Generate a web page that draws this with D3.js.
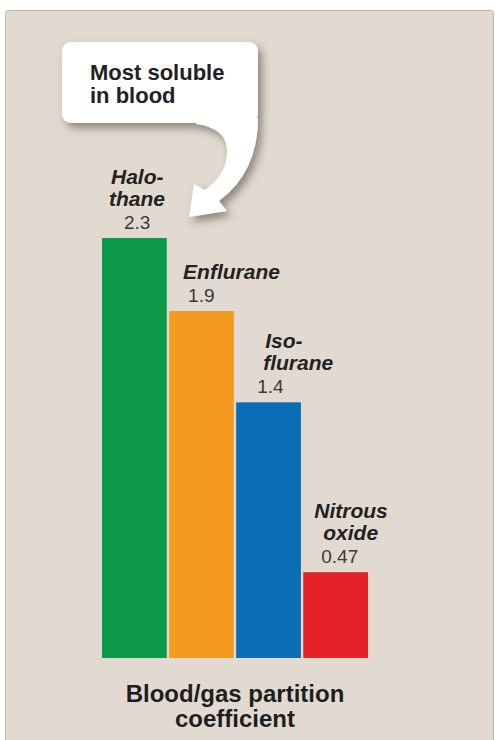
<!DOCTYPE html>
<html>
<head>
<meta charset="utf-8">
<script src="https://cdn.jsdelivr.net/npm/d3@7"></script>
<style>
  body { margin: 0; background: #fff; }
  svg { display: block; font-family: 'Liberation Sans', Arial, sans-serif; }
</style>
</head>
<body>
<div id="chart"></div>
<script>
// data
const names = ['Halothane', 'Enflurane', 'Isoflurane', 'Nitrous oxide']
const nameLines = [['Halo-', 'thane'], ['Enflurane'], ['Iso-', 'flurane'], ['Nitrous', 'oxide']]
const values = [2.3, 1.9, 1.4, 0.47]
const valueLabels = ['2.3', '1.9', '1.4', '0.47']
const colors = ['#0e9a4b', '#f39b20', '#0b6db5', '#e52228']
const axisTitle = ['Blood/gas partition', 'coefficient']
const calloutText = ['Most soluble', 'in blood']

// label x offsets from the left edge of each bar (name lines, then value)
const labelOffsets = [[9, 7], [14], [29, 27], [11, 20]]
const valueOffsets = [22, 19, 21, 18]

const width = 495
const height = 740

const svg = d3
  .select('#chart')
  .append('svg')
  .attr('width', width)
  .attr('height', height)

const defs = svg.append('defs')
const shadow = defs.append('filter').attr('id', 'shadow')
  .attr('x', '-20%').attr('y', '-20%').attr('width', '150%').attr('height', '150%')
shadow.append('feDropShadow')
  .attr('dx', 4).attr('dy', 5)
  .attr('stdDeviation', 4.5)
  .attr('flood-color', '#4a4036')
  .attr('flood-opacity', 0.55)

// panel
svg.append('rect')
  .attr('x', 5.5).attr('y', 10.5)
  .attr('width', 488).attr('height', 735)
  .attr('rx', 3)
  .attr('fill', '#e2dad0')
  .attr('stroke', '#bdb4aa')

const xScale = d3.scaleBand()
  .domain(names)
  .range([102, 368])
  .paddingInner(0.035)

const yScale = d3.scaleLinear()
  .domain([0, 2.3])
  .range([658, 238])

svg.selectAll('.bar')
  .data(values)
  .enter()
  .append('rect')
  .attr('class', 'bar')
  .attr('x', (d, i) => xScale(names[i]))
  .attr('y', d => yScale(d))
  .attr('width', xScale.bandwidth())
  .attr('height', d => yScale(0) - yScale(d))
  .attr('fill', (d, i) => colors[i])

// bar labels: name (one text, lines as tspans) and value
svg.selectAll('.label')
  .data(values)
  .enter()
  .append('g')
  .attr('class', 'label')
  .each(function(d, i) {
    const g = d3.select(this)
    const x0 = xScale(names[i])
    const top = yScale(d)
    const lines = nameLines[i]
    g.append('text')
      .attr('x', x0 + valueOffsets[i])
      .attr('y', top - 9)
      .attr('fill', '#3a3a3a')
      .style('font-size', '19px')
      .text(valueLabels[i])
    const name = g.append('text')
      .attr('y', top - 9 - 23 - 22 * (lines.length - 1))
      .attr('fill', '#222')
      .style('font-size', '21px')
      .style('font-weight', 'bold')
      .style('font-style', 'italic')
    lines.forEach((line, k) => {
      name.append('tspan')
        .attr('x', x0 + labelOffsets[i][k])
        .attr('dy', k === 0 ? 0 : 22)
        .text(line)
    })
  })

// axis title
const title = svg.append('text')
  .attr('class', 'axis-title')
  .attr('y', 702)
  .attr('text-anchor', 'middle')
  .attr('fill', '#1e1e1e')
  .style('font-size', '24px')
  .style('font-weight', 'bold')
title.selectAll('tspan')
  .data(axisTitle)
  .enter()
  .append('tspan')
  .attr('x', (xScale.range()[0] + xScale.range()[1]) / 2)
  .attr('dy', (d, i) => (i === 0 ? 0 : 25))
  .text(d => d)

// callout with curved arrow
const callout = svg.append('g').attr('filter', 'url(#shadow)')
callout.append('rect')
  .attr('x', 62).attr('y', 42)
  .attr('width', 196).attr('height', 81)
  .attr('rx', 9)
  .attr('fill', '#fff')
callout.append('path')
  .attr('d', 'M196,118 L196,124 Q229,128 227,155 Q225,176 205,190 L194,184 L189,217 L227,211 L219,201 Q258,172 258,118 Z')
  .attr('fill', '#fff')

const note = svg.append('text')
  .attr('y', 80)
  .attr('fill', '#222')
  .style('font-size', '22px')
  .style('font-weight', 'bold')
note.selectAll('tspan')
  .data(calloutText)
  .enter()
  .append('tspan')
  .attr('x', 90)
  .attr('dy', (d, i) => (i === 0 ? 0 : 23))
  .text(d => d)
</script>
</body>
</html>
